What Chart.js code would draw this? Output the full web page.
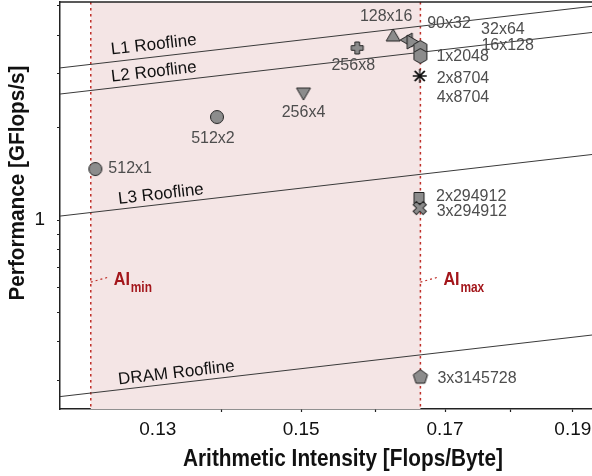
<!DOCTYPE html>
<html>
<head>
<meta charset="utf-8">
<script src="https://cdn.jsdelivr.net/npm/chart.js@4"></script>
<style>
    html, body { margin: 0; padding: 0; background: #fff; }
    canvas { display: block; }
</style>
</head>
<body>
<canvas id="chartCanvas" width="592" height="476"></canvas>
<script>
// measured points (arithmetic intensity / performance)
const POINT_NAMES = ['512x1', '512x2', '256x4', '256x8', '128x16', '90x32', '32x64',
    '16x128', '1x2048', '2x8704', '4x8704', '2x294912', '3x294912', '3x3145728'];
const AI_VALUES = [0.1254, 0.1394, 0.1503, 0.1575, 0.1625, 0.1645, 0.1652,
    0.1664, 0.1664, 0.1663, 0.1663, 0.1662, 0.1663, 0.1664];
const PERF_VALUES = [1.467, 2.169, 2.598, 3.645, 3.988, 3.871, 3.813,
    3.645, 3.432, 2.953, 2.953, 1.180, 1.094, 0.307];

// rooflines (GFlops/s per Flops/Byte)
const ROOF_NAMES = ['L1 Roofline', 'L2 Roofline', 'L3 Roofline', 'DRAM Roofline'];
const ROOF_BANDWIDTH = [25.8, 21.2, 8.47, 2.18];

// AI bounds
const AI_MIN = 0.1249;
const AI_MAX = 0.1664;

// axes
const X_MIN = 0.1216;
const X_MAX = 0.1932;
const X_TICKS = [0.1324, 0.14, 0.15, 0.16, 0.17, 0.18, 0.19];
const X_TICK_LABELS = ['0.13', '', '0.15', '', '0.17', '', '0.19'];
const Y_MIN = 0.2415;
const Y_MAX = 5.15;
const Y_TICKS = [0.3, 0.4, 0.5, 0.6, 0.7, 0.8, 0.9, 1, 2, 3, 4, 5];
const Y_TICK_LABELS = ['', '', '', '', '', '', '', '1', '', '', '', ''];

// styling / layout (not data)
const MARKER_SHAPES = ['circle', 'circle', 'triDown', 'plus', 'triUp', 'triLeft', 'triRight',
    'hexagon', 'hexagon', 'star', 'crossRot', 'square', 'xmark', 'pentagon'];
const LABEL_LAYOUT = [
    ['left', 13, 0], ['center', -4, 22], ['center', 0, 20], ['center', -4, 18],
    ['center', -7, -19], ['left', 20, -16], ['left', 69, -12], ['left', 61, -2],
    ['left', 16, 1], ['left', 17, 3], ['left', 17, 22], ['left', 17, -1],
    ['left', 17, 4], ['left', 17, 2]
];
const ROOF_LABEL_AI = [0.1321, 0.1321, 0.1329, 0.1347];
const ROOF_LABEL_OFFSET = [12, 11, 10, 10];
const AI_LABEL_PERF = 0.627;

const FONT = '"Liberation Sans", Helvetica, Arial, sans-serif';
const RED_LINE = '#c0302a';
const RED_TEXT = '#a3161b';

function makeMarker(shape) {
    const c = document.createElement('canvas');
    c.width = 20;
    c.height = 20;
    const g = c.getContext('2d');
    g.translate(10, 10);
    g.fillStyle = '#8c8c8c';
    g.strokeStyle = '#222';
    g.lineWidth = 1;

    const poly = pts => {
        g.beginPath();
        pts.forEach(([px, py], i) => i ? g.lineTo(px, py) : g.moveTo(px, py));
        g.closePath();
        g.fill();
        g.stroke();
    };
    const ngon = (n, r, rot) => {
        const pts = [];
        for (let i = 0; i < n; i++) {
            const a = rot + i * 2 * Math.PI / n;
            pts.push([r * Math.cos(a), r * Math.sin(a)]);
        }
        poly(pts);
    };
    const plus = (a, b) => poly([[-a, -b], [a, -b], [a, -a], [b, -a], [b, a], [a, a],
        [a, b], [-a, b], [-a, a], [-b, a], [-b, -a], [-a, -a]]);
    const spokes = (n, r, rot) => {
        g.strokeStyle = '#111';
        g.lineWidth = 1.3;
        g.beginPath();
        for (let i = 0; i < n; i++) {
            const a = rot + i * Math.PI / n;
            g.moveTo(-r * Math.cos(a), -r * Math.sin(a));
            g.lineTo(r * Math.cos(a), r * Math.sin(a));
        }
        g.stroke();
    };

    switch (shape) {
        case 'circle':
            g.beginPath();
            g.arc(0, 0, 6.5, 0, 2 * Math.PI);
            g.fill();
            g.stroke();
            break;
        case 'triUp': poly([[0, -7], [7, 5], [-7, 5]]); break;
        case 'triDown': poly([[0, 7], [7, -5], [-7, -5]]); break;
        case 'triLeft': poly([[-7, 0], [5, -7], [5, 7]]); break;
        case 'triRight': poly([[7, 0], [-5, -7], [-5, 7]]); break;
        case 'plus': plus(2.3, 6); break;
        case 'hexagon': ngon(6, 7.5, -Math.PI / 2); break;
        case 'square': poly([[-5, -5.5], [5, -5.5], [5, 5.5], [-5, 5.5]]); break;
        case 'xmark': g.rotate(Math.PI / 4); plus(2.3, 7); break;
        case 'pentagon': ngon(5, 7.5, -Math.PI / 2); break;
        case 'star': spokes(4, 7, 0); break;
        case 'crossRot': spokes(2, 7, Math.PI / 4); break;
    }
    return c;
}

const overlay = {
    id: 'overlay',
    beforeDatasetsDraw(chart) {
        const { ctx, chartArea: a, scales: { x, y } } = chart;
        const x0 = x.getPixelForValue(AI_MIN);
        const x1 = x.getPixelForValue(AI_MAX);
        ctx.save();
        ctx.fillStyle = '#f4e5e5';
        ctx.fillRect(x0, a.top, x1 - x0, a.bottom - a.top);
        ctx.strokeStyle = RED_LINE;
        ctx.lineWidth = 1.5;
        ctx.setLineDash([2.5, 3.5]);
        [x0, x1].forEach(px => {
            ctx.beginPath();
            ctx.moveTo(px, a.top);
            ctx.lineTo(px, a.bottom);
            ctx.stroke();
        });
        const py = y.getPixelForValue(AI_LABEL_PERF);
        ctx.lineWidth = 1.2;
        ctx.setLineDash([2, 3]);
        [x0, x1].forEach(px => {
            ctx.beginPath();
            ctx.moveTo(px, py);
            ctx.lineTo(px + 18, py - 5);
            ctx.stroke();
        });
        ctx.restore();
    },
    afterDatasetsDraw(chart) {
        const { ctx, scales: { x, y } } = chart;
        ctx.save();

        // roofline labels
        ctx.fillStyle = '#111';
        ctx.font = '17px ' + FONT;
        ctx.textAlign = 'center';
        ctx.textBaseline = 'middle';
        ROOF_NAMES.forEach((name, i) => {
            const ai = ROOF_LABEL_AI[i];
            const b = ROOF_BANDWIDTH[i];
            const px = x.getPixelForValue(ai);
            const py = y.getPixelForValue(b * ai);
            const qx = x.getPixelForValue(ai * 1.1);
            const qy = y.getPixelForValue(b * ai * 1.1);
            ctx.save();
            ctx.translate(px, py);
            ctx.rotate(Math.atan2(qy - py, qx - px));
            ctx.fillText(name, 0, -ROOF_LABEL_OFFSET[i]);
            ctx.restore();
        });

        // point labels
        ctx.fillStyle = '#4d4d4d';
        ctx.font = '16px ' + FONT;
        POINT_NAMES.forEach((name, i) => {
            const [align, dx, dy] = LABEL_LAYOUT[i];
            ctx.textAlign = align;
            ctx.fillText(name, x.getPixelForValue(AI_VALUES[i]) + dx, y.getPixelForValue(PERF_VALUES[i]) + dy);
        });

        // AI min / max labels
        ctx.fillStyle = RED_TEXT;
        ctx.textAlign = 'left';
        ctx.textBaseline = 'alphabetic';
        const py = y.getPixelForValue(AI_LABEL_PERF);
        [[AI_MIN, 'min'], [AI_MAX, 'max']].forEach(([ai, sub]) => {
            const px = x.getPixelForValue(ai) + 23;
            ctx.save();
            ctx.translate(px, py + 3);
            ctx.scale(0.85, 1);
            ctx.font = 'bold 19px ' + FONT;
            ctx.fillText('AI', 0, 0);
            const w = ctx.measureText('AI').width;
            ctx.font = 'bold 14px ' + FONT;
            ctx.fillText(sub, w + 1, 7);
            ctx.restore();
        });
        ctx.restore();
    },
    afterDraw(chart) {
        const { ctx, chartArea: a } = chart;
        ctx.save();
        ctx.strokeStyle = '#222';
        ctx.lineWidth = 1.5;
        ctx.beginPath();
        ctx.moveTo(a.left, a.top);
        ctx.lineTo(a.right, a.top);
        ctx.stroke();

        ctx.fillStyle = '#111';
        ctx.textAlign = 'center';
        ctx.textBaseline = 'middle';
        const title = (text, cx, cy, rot, width, size) => {
            ctx.save();
            ctx.font = 'bold ' + size + 'px ' + FONT;
            const w = ctx.measureText(text).width;
            ctx.translate(cx, cy);
            ctx.rotate(rot);
            ctx.scale(width / w, 1);
            ctx.fillText(text, 0, 0);
            ctx.restore();
        };
        title('Arithmetic Intensity [Flops/Byte]', 343, 460, 0, 320, 23);
        title('Performance [GFlops/s]', 18, 183, -Math.PI / 2, 235, 22);
        ctx.restore();
    }
};

const ctx = document.getElementById('chartCanvas').getContext('2d');
const chart = new Chart(ctx, {
    type: 'scatter',
    data: {
        datasets: [
            {
                data: AI_VALUES.map((v, i) => ({ x: v, y: PERF_VALUES[i] })),
                pointStyle: MARKER_SHAPES.map(makeMarker),
                pointRadius: 7
            },
            ...ROOF_NAMES.map((name, i) => ({
                label: name,
                data: [X_MIN, X_MAX].map(ai => ({ x: ai, y: ROOF_BANDWIDTH[i] * ai })),
                showLine: true,
                borderColor: '#3a3a3a',
                borderWidth: 1,
                pointRadius: 0
            }))
        ]
    },
    options: {
        responsive: false,
        animation: false,
        devicePixelRatio: 1,
        layout: { autoPadding: false, padding: { top: 2, right: 0, left: 0, bottom: 0 } },
        plugins: { legend: { display: false }, tooltip: { enabled: false } },
        scales: {
            x: {
                type: 'logarithmic',
                min: X_MIN,
                max: X_MAX,
                afterBuildTicks: s => { s.ticks = X_TICKS.map(v => ({ value: v })); },
                afterFit: s => { s.height = 67; s.paddingLeft = 0; s.paddingRight = 0; },
                grid: {
                    drawOnChartArea: false,
                    tickLength: 3,
                    tickWidth: 1.2,
                    tickColor: c => (c.index === 0 ? 'rgba(0,0,0,0)' : '#222')
                },
                border: { color: '#222', width: 1.5 },
                ticks: {
                    autoSkip: false,
                    maxRotation: 0,
                    padding: 6,
                    color: '#111',
                    font: { family: FONT, size: 19 },
                    callback: (v, i) => X_TICK_LABELS[i]
                }
            },
            y: {
                type: 'logarithmic',
                min: Y_MIN,
                max: Y_MAX,
                afterBuildTicks: s => { s.ticks = Y_TICKS.map(v => ({ value: v })); },
                afterFit: s => { s.width = 60; s.paddingTop = 0; s.paddingBottom = 0; },
                grid: {
                    drawOnChartArea: false,
                    tickLength: 3,
                    tickWidth: 1.2,
                    tickColor: '#222'
                },
                border: { color: '#222', width: 1.5 },
                ticks: {
                    autoSkip: false,
                    padding: 12,
                    color: '#111',
                    font: { family: FONT, size: 19 },
                    callback: (v, i) => Y_TICK_LABELS[i]
                }
            }
        }
    },
    plugins: [overlay]
});
</script>
</body>
</html>
